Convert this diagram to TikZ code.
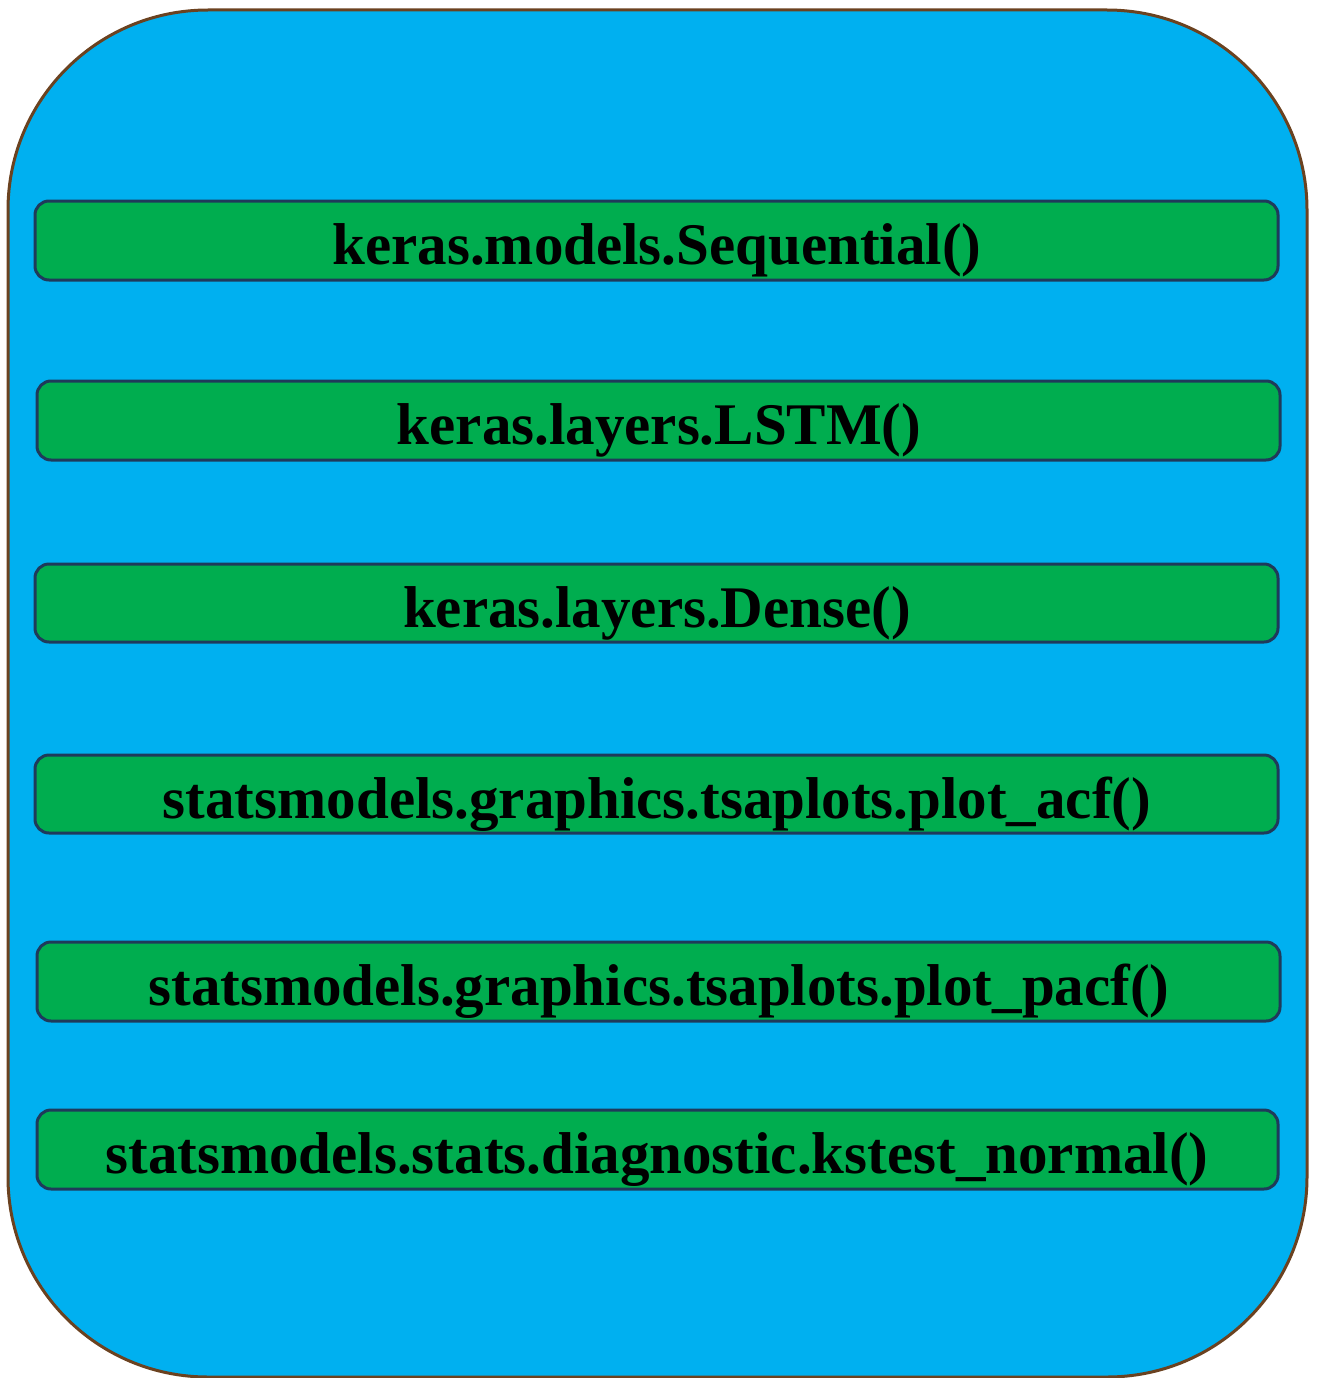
\documentclass[tikz,border=0pt]{standalone}
\usepackage{fontspec}
\setmainfont{Liberation Serif}
\definecolor{outerblue}{HTML}{00B0F0}
\definecolor{outerbrown}{HTML}{6B4220}
\definecolor{boxgreen}{HTML}{00AD4F}
\definecolor{boxedge}{HTML}{1F3A5A}
\begin{document}
\begin{tikzpicture}[x=1pt,y=-1pt,
  fnbox/.style={draw=boxedge,fill=boxgreen,line width=3pt,rounded corners=14pt},
  fnlabel/.style={font=\fontsize{59}{64}\selectfont\bfseries,text=black,inner sep=0pt,anchor=base}]
\useasboundingbox (0,0) rectangle (1317,1378);
\draw[fill=outerblue,draw=outerbrown,line width=3pt,rounded corners=200pt] (8,10) rectangle (1307,1377);
\draw[fnbox] (35,201) rectangle (1278,280);
\draw[fnbox] (37,381) rectangle (1280,460);
\draw[fnbox] (35,564) rectangle (1278,642);
\draw[fnbox] (35,755) rectangle (1278,833);
\draw[fnbox] (37,942) rectangle (1280,1021);
\draw[fnbox] (37,1110) rectangle (1278,1189);
\node[fnlabel] (t1) at (657,264) {keras.models.Sequential()};
\node[fnlabel] (t2) at (659,444) {keras.layers.LSTM()};
\node[fnlabel] (t3) at (657,627) {keras.layers.Dense()};
\node[fnlabel] (t4) at (657,818) {statsmodels.graphics.tsaplots.plot\_acf()};
\node[fnlabel] (t5) at (659,1005) {statsmodels.graphics.tsaplots.plot\_pacf()};
\node[fnlabel] (t6) at (657,1173) {statsmodels.stats.diagnostic.kstest\_normal()};
\end{tikzpicture}
\end{document}
